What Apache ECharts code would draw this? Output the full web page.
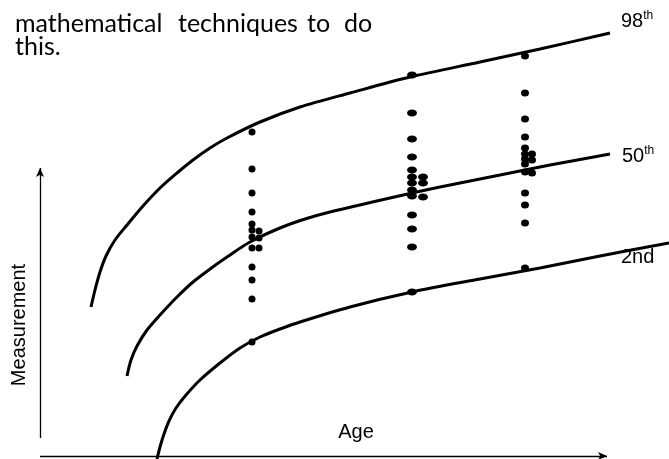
<!DOCTYPE html>
<html>
<head>
<meta charset="utf-8">
<script src="https://cdn.jsdelivr.net/npm/echarts@6/dist/echarts.min.js"></script>
<style>
  html, body { margin: 0; padding: 0; background: #fff; }
  #chart { width: 669px; height: 459px; }
</style>
</head>
<body>
<div id="chart"></div>
<script>
const p98 = [[51,149],[55,166],[60,184],[66,200],[75,216],[87,231],[103,250],[120,268],[137,283],[153,296],
             [170,308],[187,318],[220,334],[260,349],[310,363],[370,379],[440,394],[500,407],[570,423]];
const p50 = [[87,80],[91,96],[97,110],[107,126],[120,141],[137,159],[153,174],[170,187],[187,199],
             [210,214],[240,228],[265,237],[290,244],[350,258],[400,269],[460,281],[510,291],[570,302]];
const p2  = [[117,-3],[120,9],[124,22],[129,35],[136,48],[146,61],[160,76],[180,93],[200,108],
             [220,119],[240,127],[260,134],[310,149],[372,164],[440,177],[500,188],[560,200],[629,213]];

// Sampled children at three ages
const ageA = 212, ageA2 = 219;
const measA  = [324,287,263,244,232,226,219,208,189,176,157,114];
const measA2 = [225,218,208];
const ageB = 372, ageB2 = 383;
const measB  = [381,343,317,299,286,279,273,266,260,241,227,209,164];
const measB2 = [279,273,259];
const ageC = 485, ageC2 = 492;
const measC  = [400,363,337,319,308,302,297,292,284,263,251,233,188];
const measC2 = [302,296,283];

const curveLabels = ['98', '50', '2nd'];

const pts = (age, list) => list.map(m => [age, m]);

const chart = echarts.init(document.getElementById('chart'), null, { renderer: 'canvas' });

const lineBase = {
    type: 'line',
    smooth: 0.3,
    symbol: 'none',
    clip: false,
    silent: true,
    lineStyle: { color: '#000', width: 3 },
};

const labelRich = {
    n: { fontFamily: 'Liberation Sans', fontSize: 20, color: '#000', lineHeight: 22 },
    s: { fontFamily: 'Liberation Sans', fontSize: 12, color: '#000', verticalAlign: 'top', lineHeight: 12 },
};

const word = (text, x, y) => ({
    type: 'text', x, y, silent: true,
    style: { text, font: '25px Lato', fill: '#000', verticalAlign: 'middle' },
});

const arrow = {
    silent: true, symbol: ['none', 'arrow'], symbolSize: [6, 9],
    lineStyle: { color: '#000', width: 1.3, type: 'solid' },
    label: { show: false },
    data: [
        [{ coord: [0, 18] }, { coord: [0, 288] }],   // Measurement axis
        [{ coord: [0, 0] }, { coord: [567, 0] }],    // Age axis
    ],
};

chart.setOption({
    animation: false,
    backgroundColor: '#fff',
    grid: { left: 40, right: 0, top: 0, bottom: 3 },
    xAxis: {
        type: 'value', min: 0, max: 629,
        axisLine: { show: false }, axisTick: { show: false },
        axisLabel: { show: false }, splitLine: { show: false },
    },
    yAxis: {
        type: 'value', min: 0, max: 456,
        axisLine: { show: false }, axisTick: { show: false },
        axisLabel: { show: false }, splitLine: { show: false },
    },
    graphic: [
        word('mathematical', 15, 24),
        word('techniques', 178, 24),
        word('to', 307, 24),
        word('do', 344, 24),
        word('this.', 15, 47),
        {
            type: 'text', x: 356, y: 432, silent: true,
            style: { text: 'Age', font: '20px "Liberation Sans"', fill: '#000',
                     align: 'center', verticalAlign: 'middle' },
        },
        {
            type: 'text', x: 19, y: 325, rotation: Math.PI / 2, silent: true,
            style: { text: 'Measurement', font: '20px "Liberation Sans"', fill: '#000',
                     align: 'center', verticalAlign: 'middle' },
        },
    ],
    series: [
        Object.assign({}, lineBase, {
            name: '98th', data: p98,
            endLabel: { show: true, offset: [3, -12], formatter: '{n|' + curveLabels[0] + '}{s|th}', rich: labelRich },
        }),
        Object.assign({}, lineBase, {
            name: '50th', data: p50,
            endLabel: { show: true, offset: [4, 2], formatter: '{n|' + curveLabels[1] + '}{s|th}', rich: labelRich },
        }),
        Object.assign({}, lineBase, {
            name: '2nd', data: p2,
            endLabel: { show: true, offset: [-56, 14], formatter: '{n|' + curveLabels[2] + '}', rich: labelRich },
        }),
        {
            type: 'scatter', silent: true, symbol: 'circle', symbolSize: [7, 7],
            itemStyle: { color: '#000', opacity: 1 },
            data: pts(ageA, measA).concat(pts(ageA2, measA2)),
            markLine: arrow,
        },
        {
            type: 'scatter', silent: true, symbol: 'circle', symbolSize: [10, 7],
            itemStyle: { color: '#000', opacity: 1 },
            data: pts(ageB, measB).concat(pts(ageB2, measB2)),
        },
        {
            type: 'scatter', silent: true, symbol: 'circle', symbolSize: [8, 7],
            itemStyle: { color: '#000', opacity: 1 },
            data: pts(ageC, measC).concat(pts(ageC2, measC2)),
        },
    ],
});
</script>
</body>
</html>
